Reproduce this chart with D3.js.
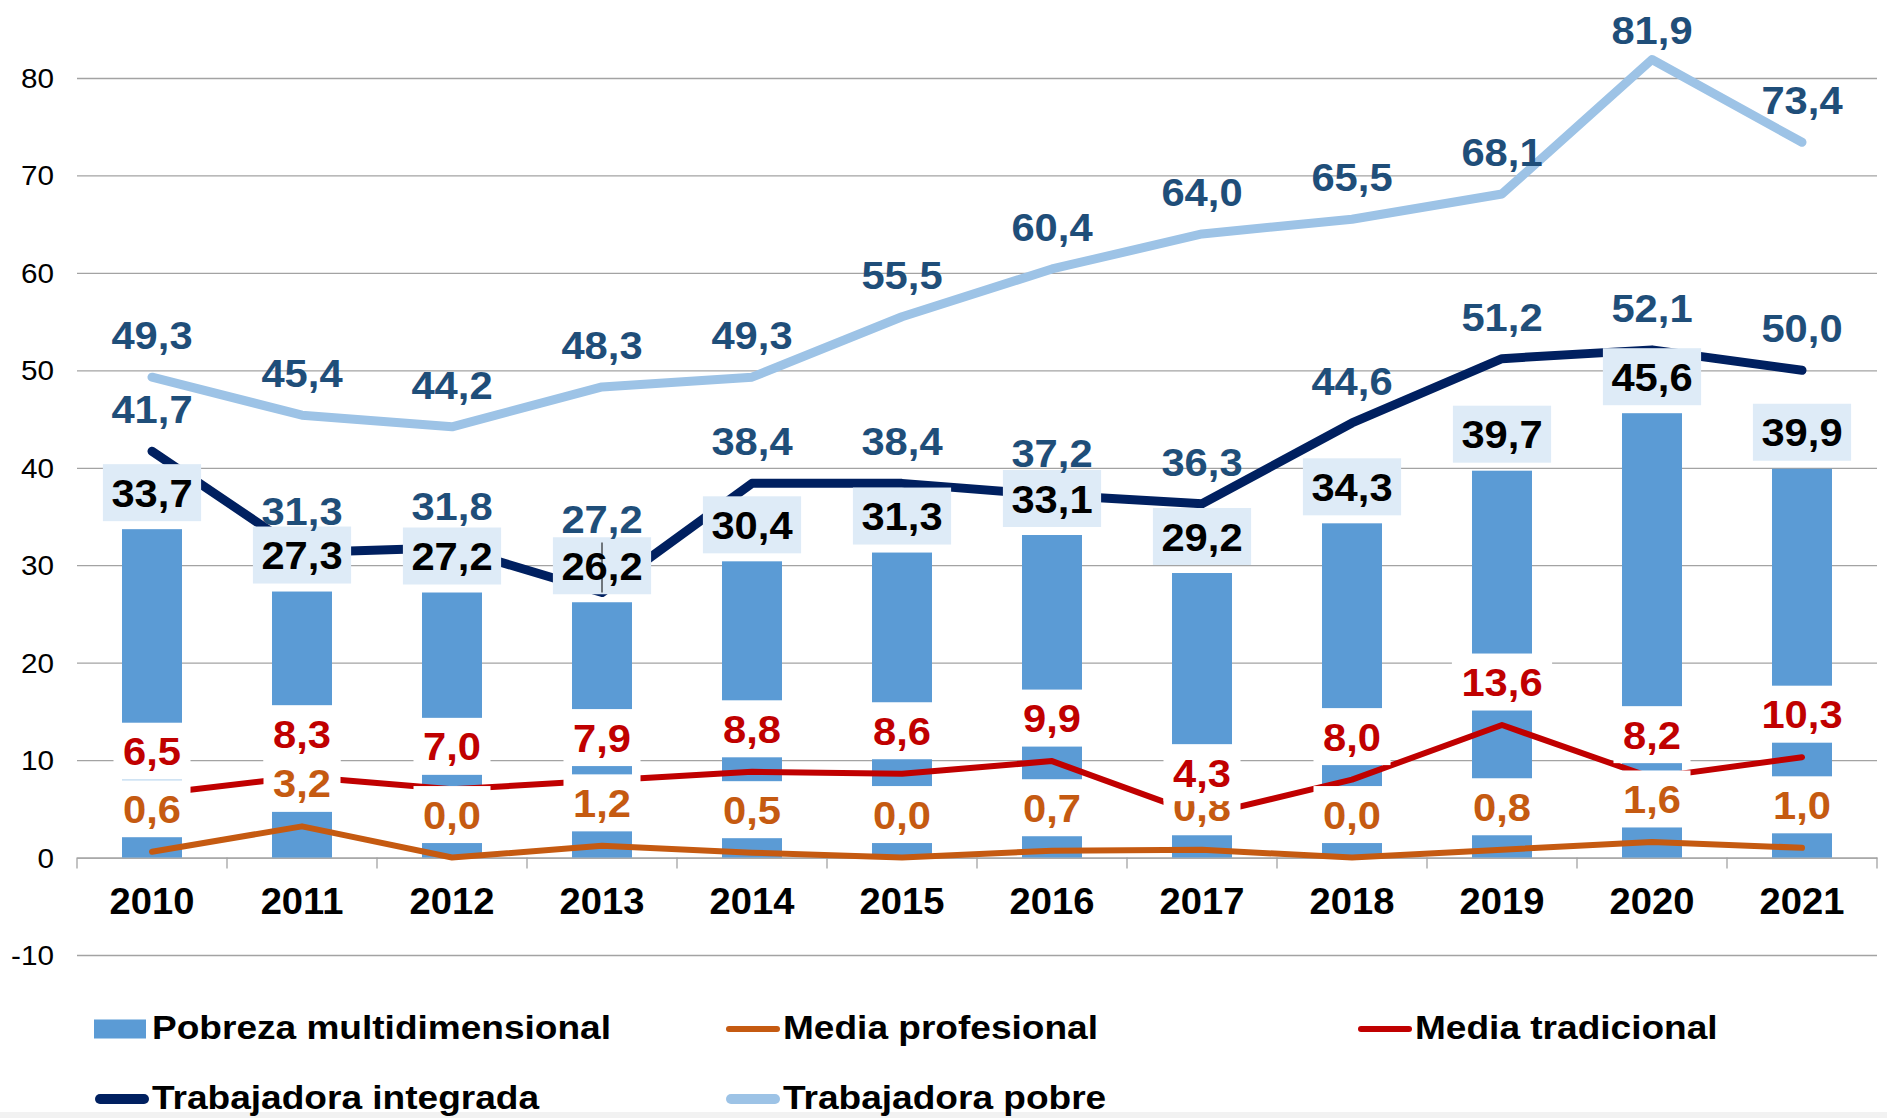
<!DOCTYPE html>
<html><head><meta charset="utf-8">
<script src="https://cdn.jsdelivr.net/npm/d3@7"></script>
<style>html,body{margin:0;padding:0;background:#fff;overflow:hidden}svg{display:block}</style>
</head><body><div id="chart"></div>
<script>
// ---------- DATA ----------
const years = ["2010","2011","2012","2013","2014","2015","2016","2017","2018","2019","2020","2021"];
const pobrezaMultidimensional = [33.7, 27.3, 27.2, 26.2, 30.4, 31.3, 33.1, 29.2, 34.3, 39.7, 45.6, 39.9];
const mediaProfesional       = [0.6, 3.2, 0.0, 1.2, 0.5, 0.0, 0.7, 0.8, 0.0, 0.8, 1.6, 1.0];
const mediaTradicional       = [6.5, 8.3, 7.0, 7.9, 8.8, 8.6, 9.9, 4.3, 8.0, 13.6, 8.2, 10.3];
const trabajadoraIntegrada   = [41.7, 31.3, 31.8, 27.2, 38.4, 38.4, 37.2, 36.3, 44.6, 51.2, 52.1, 50.0];
const trabajadoraPobre       = [49.3, 45.4, 44.2, 48.3, 49.3, 55.5, 60.4, 64.0, 65.5, 68.1, 81.9, 73.4];
const yTicks = [-10, 0, 10, 20, 30, 40, 50, 60, 70, 80];
const legendLabels = ["Pobreza multidimensional","Media profesional","Media tradicional","Trabajadora integrada","Trabajadora pobre"];

// ---------- SETUP ----------
const W = 1887, H = 1118;
const FONT = '"Liberation Sans", Arial, Helvetica, sans-serif';
const SX = 1.07, LABEL_FS = 39;
const svg = d3.select("#chart").append("svg").attr("width", W).attr("height", H);
svg.append("rect").attr("width", W).attr("height", H).attr("fill", "#fff");
svg.append("rect").attr("y", 1112).attr("width", W).attr("height", H - 1112).attr("fill", "#f2f2f2");

const x = d3.scaleBand().domain(years).range([77, 1877]);
const y = d3.scaleLinear().domain([-10, 80]).range([955, 78]);
const cx = d => x(d) + x.bandwidth() / 2;
const fmt = v => d3.format(".1f")(v).replace(".", ",");
const GRID = "#a3a3a3";

// gridlines + y labels
const gy = svg.append("g").attr("transform", "translate(77,0)")
  .call(d3.axisLeft(y).tickValues(yTicks).tickSize(-1800).tickFormat(d => String(d)));
gy.select(".domain").remove();
gy.attr("font-family", FONT).attr("font-size", 27);
gy.selectAll(".tick line").attr("stroke", GRID).attr("stroke-width", 1.3);
gy.selectAll(".tick text").attr("x", 0).attr("dy", "0.35em")
  .attr("transform", "translate(-23,0) scale(1.1,1)").attr("fill", "#000");

// x axis
const gx = svg.append("g").attr("transform", `translate(0,${y(0)})`)
  .call(d3.axisBottom(x).tickSize(0).tickSizeOuter(0).tickPadding(0));
gx.attr("font-family", FONT).attr("font-size", 36).attr("font-weight", "bold");
gx.select(".domain").attr("stroke", GRID).attr("stroke-width", 1.3);
gx.selectAll(".tick text").attr("y", 0).attr("dy", 0)
  .attr("transform", `translate(0,${914 - y(0)}) scale(1.06,1)`).attr("fill", "#000");
const bounds = years.map(d => x(d)).concat([x.range()[1]]);
svg.append("g").selectAll("line").data(bounds).join("line")
  .attr("x1", d => d).attr("x2", d => d).attr("y1", y(0)).attr("y2", y(0) + 11)
  .attr("stroke", GRID).attr("stroke-width", 1.3);

// bars
const bw = x.bandwidth() * 0.4;
svg.append("g").selectAll("rect").data(years).join("rect")
  .attr("x", d => cx(d) - bw / 2)
  .attr("y", (d, i) => y(pobrezaMultidimensional[i]))
  .attr("width", bw)
  .attr("height", (d, i) => y(0) - y(pobrezaMultidimensional[i]))
  .attr("fill", "#5B9BD5");

// lines
const series = [
  { name: legendLabels[1], values: mediaProfesional, color: "#C55A11", width: 6, text: "#C55A11", box: "#fff", off: 29 },
  { name: legendLabels[2], values: mediaTradicional, color: "#C00000", width: 6, text: "#C00000", box: "#fff", off: 29 },
  { name: legendLabels[3], values: trabajadoraIntegrada, color: "#002060", width: 9, text: "#1F4E79", box: null, off: 28 },
  { name: legendLabels[4], values: trabajadoraPobre, color: "#9DC3E6", width: 9, text: "#1F4E79", box: null, off: 28 }
];
const line = d3.line().x((v, i) => cx(years[i])).y(v => y(v));
series.forEach(s => {
  svg.append("path").datum(s.values).attr("d", line).attr("fill", "none")
    .attr("stroke", s.color).attr("stroke-width", s.width)
    .attr("stroke-linejoin", "round").attr("stroke-linecap", "round");
});

// labels
const labelsG = svg.append("g");
function addLabel(px, baseline, txt, color, boxFill, boxTop, boxBottom, pad) {
  const grp = labelsG.append("g");
  const rect = boxFill ? grp.append("rect") : null;
  const t = grp.append("text")
    .attr("transform", `translate(${px},${baseline}) scale(${SX},1)`)
    .attr("text-anchor", "middle").attr("font-family", FONT).attr("font-weight", "bold")
    .attr("font-size", LABEL_FS).attr("fill", color).text(txt);
  if (rect) {
    const w = t.node().getComputedTextLength() * SX + pad;
    rect.attr("x", px - w / 2).attr("y", boxTop).attr("width", w)
      .attr("height", boxBottom - boxTop).attr("fill", boxFill);
  }
}
// bar labels
years.forEach((yr, i) => {
  const top = y(pobrezaMultidimensional[i]);
  const bb = top - 8;
  addLabel(cx(yr), bb - 14.5, fmt(pobrezaMultidimensional[i]), "#000", "#DEEBF7", bb - 57, bb, 17);
});
// line labels
const manualShift = { "Trabajadora integrada|2013": -32 };
const leaders = [];
series.forEach(s => {
  years.forEach((yr, i) => {
    const p = y(s.values[i]);
    let shift = manualShift[s.name + "|" + yr] || 0;
    let boxTop = p - 71.5 + shift;
    if (boxTop < 0) shift += -boxTop;
    const base = p - s.off + shift;
    addLabel(cx(yr), base, fmt(s.values[i]), s.text, s.box, p - 71.5 + shift, p - 14.5 + shift, 19);
    if (manualShift[s.name + "|" + yr]) leaders.push({ x: cx(yr), y1: base + 10, y2: p });
  });
});
svg.append("g").selectAll("line").data(leaders).join("line")
  .attr("x1", d => d.x).attr("x2", d => d.x).attr("y1", d => d.y1).attr("y2", d => d.y2)
  .attr("stroke", "#000").attr("stroke-width", 1);

// legend
const legendItems = [
  { label: legendLabels[0], type: "rect", color: "#5B9BD5", tx: 152, base: 1039 },
  { label: legendLabels[1], type: "line", color: "#C55A11", w: 6, tx: 783, base: 1039 },
  { label: legendLabels[2], type: "line", color: "#C00000", w: 6, tx: 1415, base: 1039 },
  { label: legendLabels[3], type: "line", color: "#002060", w: 10, tx: 152, base: 1109 },
  { label: legendLabels[4], type: "line", color: "#9DC3E6", w: 10, tx: 783, base: 1109 }
];
const lg = svg.append("g");
legendItems.forEach(it => {
  const cy = it.base - 10;
  if (it.type === "rect") {
    lg.append("rect").attr("x", it.tx - 58).attr("y", cy - 9.5).attr("width", 52).attr("height", 19).attr("fill", it.color);
  } else {
    lg.append("line").attr("x1", it.tx - 57 + it.w / 2).attr("x2", it.tx - 3 - it.w / 2)
      .attr("y1", cy).attr("y2", cy).attr("stroke", it.color).attr("stroke-width", it.w)
      .attr("stroke-linecap", "round");
  }
  lg.append("text").attr("transform", `translate(${it.tx},${it.base}) scale(1.09,1)`)
    .attr("font-family", FONT).attr("font-weight", "bold").attr("font-size", 34)
    .attr("fill", "#000").text(it.label);
});
</script>
</body></html>
